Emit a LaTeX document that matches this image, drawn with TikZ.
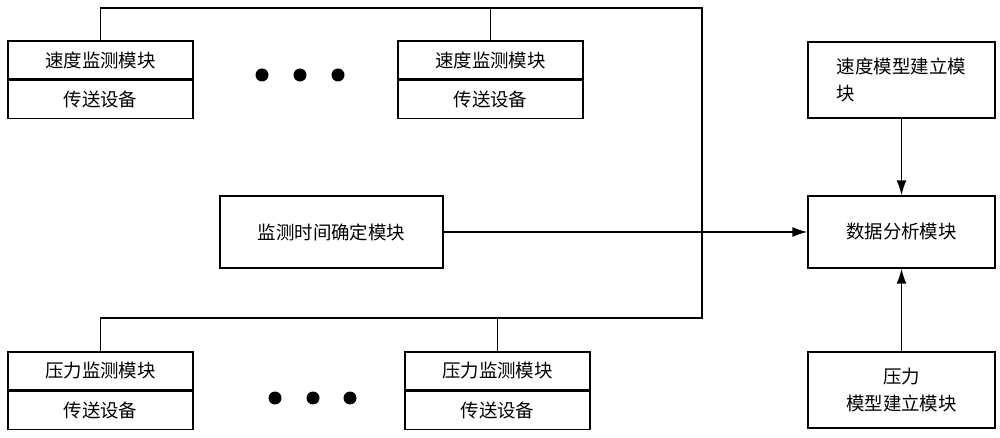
\documentclass[tikz,border=0pt]{standalone}
\usepackage{fontspec}
\setmainfont{Noto Sans CJK SC}
\usetikzlibrary{positioning,calc,arrows,arrows.meta}
\tikzset{
  modbox/.style={draw, thick, minimum width=3.7cm, minimum height=1.44cm, inner sep=2pt, font=\fontsize{10.5}{15}\selectfont},
  halfbox/.style={draw, thick, minimum width=3.7cm, minimum height=0.76cm, inner sep=1pt, font=\fontsize{10.5}{12}\selectfont},
  wire/.style={thick},
  flow/.style={thick, -{Latex[length=3mm,width=2mm]}},
  blob/.style={circle, fill=black, inner sep=0pt, minimum size=0.26cm}
}
\begin{document}
\begin{tikzpicture}[x=0.02cm, y=-0.02cm]
    \useasboundingbox (0,0) rectangle (1000,438);
    % speed monitoring units
    \node[halfbox] (sp1) at (100.5,60) {速度监测模块};
    \node[halfbox, below=0pt of sp1] (tx1) {传送设备};
    \node[halfbox] (sp2) at (490.5,60) {速度监测模块};
    \node[halfbox, below=0pt of sp2] (tx2) {传送设备};
    \node[blob] (d1) at (262,75) {};
    \node[blob] (d2) at (300,75) {};
    \node[blob] (d3) at (338,75) {};

    % pressure monitoring units
    \node[halfbox] (pr1) at (100.5,371) {压力监测模块};
    \node[halfbox, below=0pt of pr1] (tx3) {传送设备};
    \node[halfbox] (pr2) at (497.5,371) {压力监测模块};
    \node[halfbox, below=0pt of pr2] (tx4) {传送设备};
    \node[blob] (d4) at (275,398) {};
    \node[blob] (d5) at (313,398) {};
    \node[blob] (d6) at (350,398) {};

    % middle and right blocks
    \node[modbox, minimum width=4.46cm] (timer) at (331.5,232) {监测时间确定模块};
    \node[modbox, minimum width=3.74cm] (data) at (901.5,232) {数据分析模块};
    \node[modbox, minimum width=3.74cm, minimum height=1.52cm, align=left] (spm) at (901.5,80) {速度模型建立模\\块};
    \node[modbox, minimum width=3.74cm, minimum height=1.52cm, align=center] (prm) at (901.5,390) {压力\\模型建立模块};

    % bus lines
    \coordinate (tbus) at (702,8);
    \coordinate (bbus) at (702,318);
    \draw[wire] (sp1.north) |- (tbus) -- (bbus) -| (pr1.north);
    \draw[wire] (sp2.north) -- (sp2.north |- tbus);
    \draw[wire] (pr2.north) -- (pr2.north |- bbus);

    % arrows
    \draw[flow] (timer.east) -- (data.west);
    \draw[flow] (spm.south -| data.north) -- (data.north);
    \draw[flow] (prm.north -| data.south) -- (data.south);
\end{tikzpicture}
\end{document}
